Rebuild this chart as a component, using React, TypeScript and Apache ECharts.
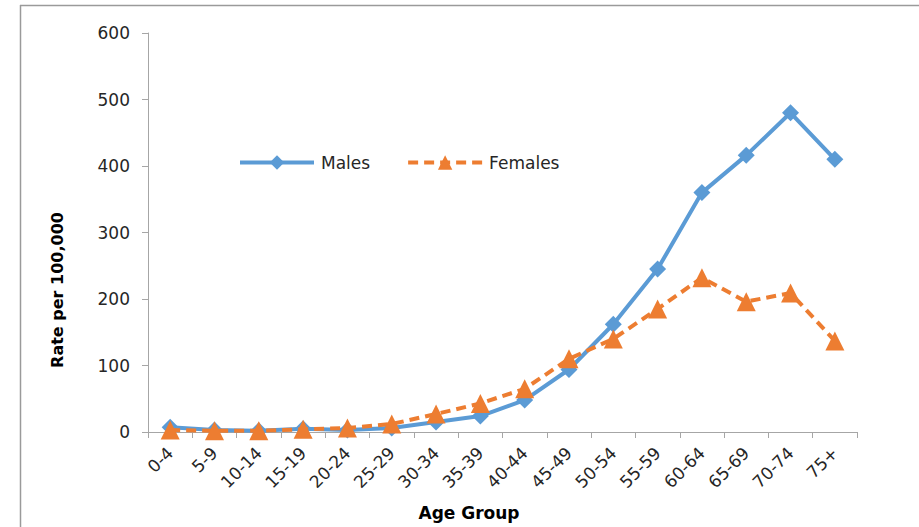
import React, { useEffect, useRef } from "react";
import * as echarts from "echarts";

const ageGroups = ["0-4", "5-9", "10-14", "15-19", "20-24", "25-29", "30-34", "35-39", "40-44", "45-49", "50-54", "55-59", "60-64", "65-69", "70-74", "75+"];
const males = [7, 3, 2, 5, 3, 6, 15, 24, 48, 94, 162, 245, 360, 416, 480, 410];
const females = [3, 2, 2, 4, 6, 12, 27, 43, 65, 110, 140, 185, 232, 196, 209, 137];
const yTicks = [0, 100, 200, 300, 400, 500, 600];

const FONT = "DejaVu Sans";
const AXIS_GRAY = "#a6a6a6";
const TEXT = "#262626";

export default function App() {
  const ref = useRef<HTMLDivElement>(null);

  useEffect(() => {
    if (!ref.current) return;
    const chart = echarts.init(ref.current, null, { renderer: "svg" });
    chart.setOption({
      animation: false,
      backgroundColor: "#ffffff",
      textStyle: { fontFamily: FONT },
      grid: { left: 148, width: 709, top: 33, height: 399, containLabel: false },
      legend: {
        left: 233,
        top: 149,
        itemWidth: 74,
        itemHeight: 18,
        itemGap: 36,
        lineStyle: { width: 4 },
        textStyle: { fontFamily: FONT, fontSize: 17, color: TEXT, padding: [0, 0, 0, 2] },
        data: ["Males", "Females"],
      },
      xAxis: {
        type: "category",
        data: ageGroups,
        boundaryGap: true,
        axisLine: { lineStyle: { color: AXIS_GRAY, width: 1 } },
        axisTick: { show: true, length: 6, lineStyle: { color: AXIS_GRAY }, alignWithLabel: false },
        axisLabel: { rotate: 45, fontSize: 17, color: TEXT, margin: 18, interval: 0 },
        splitLine: { show: false },
      },
      yAxis: {
        type: "value",
        min: yTicks[0],
        max: yTicks[yTicks.length - 1],
        interval: 100,
        axisLine: { show: true, lineStyle: { color: AXIS_GRAY, width: 1 } },
        axisTick: { show: true, length: 6, lineStyle: { color: AXIS_GRAY } },
        axisLabel: { fontSize: 17, color: TEXT, margin: 18 },
        splitLine: { show: false },
      },
      series: [
        {
          name: "Males",
          type: "line",
          data: males,
          symbol: "diamond",
          symbolSize: 17,
          lineStyle: { color: "#5b9bd5", width: 4 },
          itemStyle: { color: "#5b9bd5" },
          z: 2,
        },
        {
          name: "Females",
          type: "line",
          data: females,
          symbol: "triangle",
          symbolSize: 19,
          lineStyle: { color: "#ed7d31", width: 4, type: [10, 6] },
          itemStyle: { color: "#ed7d31" },
          z: 3,
        },
      ],
      graphic: [
        {
          type: "line",
          shape: { x1: 20, y1: 5.5, x2: 919, y2: 5.5 },
          style: { stroke: "#9a9a9a", lineWidth: 1.5 },
        },
        {
          type: "line",
          shape: { x1: 20.5, y1: 5, x2: 20.5, y2: 527 },
          style: { stroke: "#9a9a9a", lineWidth: 1.5 },
        },
        {
          type: "text",
          x: 469,
          y: 513,
          style: {
            text: "Age Group",
            fontFamily: FONT,
            fontSize: 17,
            fontWeight: "bold",
            fill: "#000",
            align: "center",
            verticalAlign: "middle",
          },
        },
        {
          type: "text",
          x: 57,
          y: 290,
          rotation: Math.PI / 2,
          style: {
            text: "Rate per 100,000",
            fontFamily: FONT,
            fontSize: 16,
            fontWeight: "bold",
            fill: "#000",
            align: "center",
            verticalAlign: "middle",
          },
        },
      ],
    });
    return () => chart.dispose();
  }, []);

  return (
    <div
      ref={ref}
      style={{ position: "fixed", left: 0, top: 0, width: 919, height: 527 }}
    />
  );
}
